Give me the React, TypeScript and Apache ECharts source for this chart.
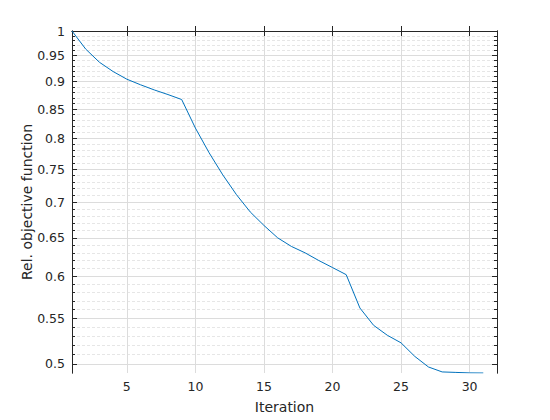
import React, { useEffect, useRef } from "react";
import * as echarts from "echarts";

const iterations = [1,2,3,4,5,6,7,8,9,10,11,12,13,14,15,16,17,18,19,20,21,22,23,24,25,26,27,28,29,30,31];
const relObjective = [1.0,0.963,0.937,0.919,0.9045,0.894,0.8845,0.876,0.867,0.817,0.776,0.741,0.711,0.686,0.667,0.65,0.6385,0.63,0.62,0.611,0.602,0.5616,0.5417,0.5306,0.5223,0.5078,0.4967,0.4916,0.4911,0.4906,0.4905];
const yMajorTicks = [0.5,0.55,0.6,0.65,0.7,0.75,0.8,0.85,0.9,0.95,1];
const yMinorTicks = [0.49,0.51,0.52,0.53,0.54,0.56,0.57,0.58,0.59,0.61,0.62,0.63,0.64,0.66,0.67,0.68,0.69,0.71,0.72,0.73,0.74,0.76,0.77,0.78,0.79,0.81,0.82,0.83,0.84,0.86,0.87,0.88,0.89,0.91,0.92,0.93,0.94,0.96,0.97,0.98,0.99];
const xTicks = [5,10,15,20,25,30];
const xMin = 1;
const xMax = 32;
const yMin = 0.4905;
const yMax = 1;

const lg = (v: number) => Math.log10(v);

export default function App() {
  const ref = useRef<HTMLDivElement>(null);
  useEffect(() => {
    document.body.style.margin = "0";
    if (!ref.current) return;
    const chart = echarts.init(ref.current, null, { renderer: "svg" });
    const axisColor = "#262626";
    const font = "DejaVu Sans";
    const fmt = (v: number) => String(Math.round(Math.pow(10, v) * 100) / 100);
    const majors = yMajorTicks.map(lg);
    const minors = yMinorTicks.map(lg);
    const yBase = {
      type: "value" as const,
      min: lg(yMin),
      max: lg(yMax),
      axisLine: { show: true, lineStyle: { color: axisColor, width: 1 } },
    };
    chart.setOption({
      animation: false,
      backgroundColor: "#ffffff",
      grid: { left: 72, right: 53, top: 31, bottom: 47 },
      xAxis: [
        {
          type: "value",
          min: xMin,
          max: xMax,
          position: "bottom",
          name: "Iteration",
          nameLocation: "middle",
          nameGap: 27,
          nameMoveOverlap: false,
          nameTextStyle: { color: axisColor, fontSize: 14, fontFamily: font },
          axisLine: { show: true, lineStyle: { color: axisColor, width: 1 } },
          axisTick: { show: true, inside: true, length: 5, customValues: xTicks, lineStyle: { color: axisColor } },
          axisLabel: { customValues: xTicks, color: axisColor, fontSize: 12.5, fontFamily: font, margin: 7 },
          splitLine: { show: true, lineStyle: { color: "#dcdcdc", width: 1 } },
        },
        {
          type: "value",
          min: xMin,
          max: xMax,
          position: "top",
          axisLine: { show: true, lineStyle: { color: axisColor, width: 1 } },
          axisTick: { show: true, inside: true, length: 5, customValues: xTicks, lineStyle: { color: axisColor } },
          axisLabel: { show: false },
          splitLine: { show: false },
        },
      ],
      yAxis: [
        {
          ...yBase,
          position: "left",
          name: "Rel. objective function",
          nameLocation: "middle",
          nameGap: 38,
          nameMoveOverlap: false,
          nameTextStyle: { color: axisColor, fontSize: 14, fontFamily: font },
          axisTick: { show: true, inside: true, length: 5, customValues: majors, lineStyle: { color: axisColor } },
          axisLabel: { customValues: majors, formatter: fmt, color: axisColor, fontSize: 12.5, fontFamily: font, margin: 7 },
          splitLine: { show: true, lineStyle: { color: "#dcdcdc", width: 1 } },
        },
        {
          ...yBase,
          position: "left",
          axisTick: { show: true, inside: true, length: 3, customValues: minors, lineStyle: { color: axisColor } },
          axisLabel: { show: false },
          splitLine: { show: true, lineStyle: { color: "#e6e6e6", width: 1, type: [3, 2] } },
        },
        {
          ...yBase,
          position: "right",
          axisTick: { show: true, inside: true, length: 5, customValues: majors, lineStyle: { color: axisColor } },
          axisLabel: { show: false },
          splitLine: { show: false },
        },
        {
          ...yBase,
          position: "right",
          axisTick: { show: true, inside: true, length: 3, customValues: minors, lineStyle: { color: axisColor } },
          axisLabel: { show: false },
          splitLine: { show: false },
        },
      ],
      series: [
        {
          type: "line",
          xAxisIndex: 0,
          yAxisIndex: 0,
          data: iterations.map((x, i) => [x, lg(relObjective[i])]),
          showSymbol: false,
          symbol: "none",
          lineStyle: { color: "#0072BD", width: 1 },
          itemStyle: { color: "#0072BD" },
          z: 10,
        },
      ],
    });
    return () => chart.dispose();
  }, []);
  return <div ref={ref} style={{ width: 550, height: 420 }} />;
}
